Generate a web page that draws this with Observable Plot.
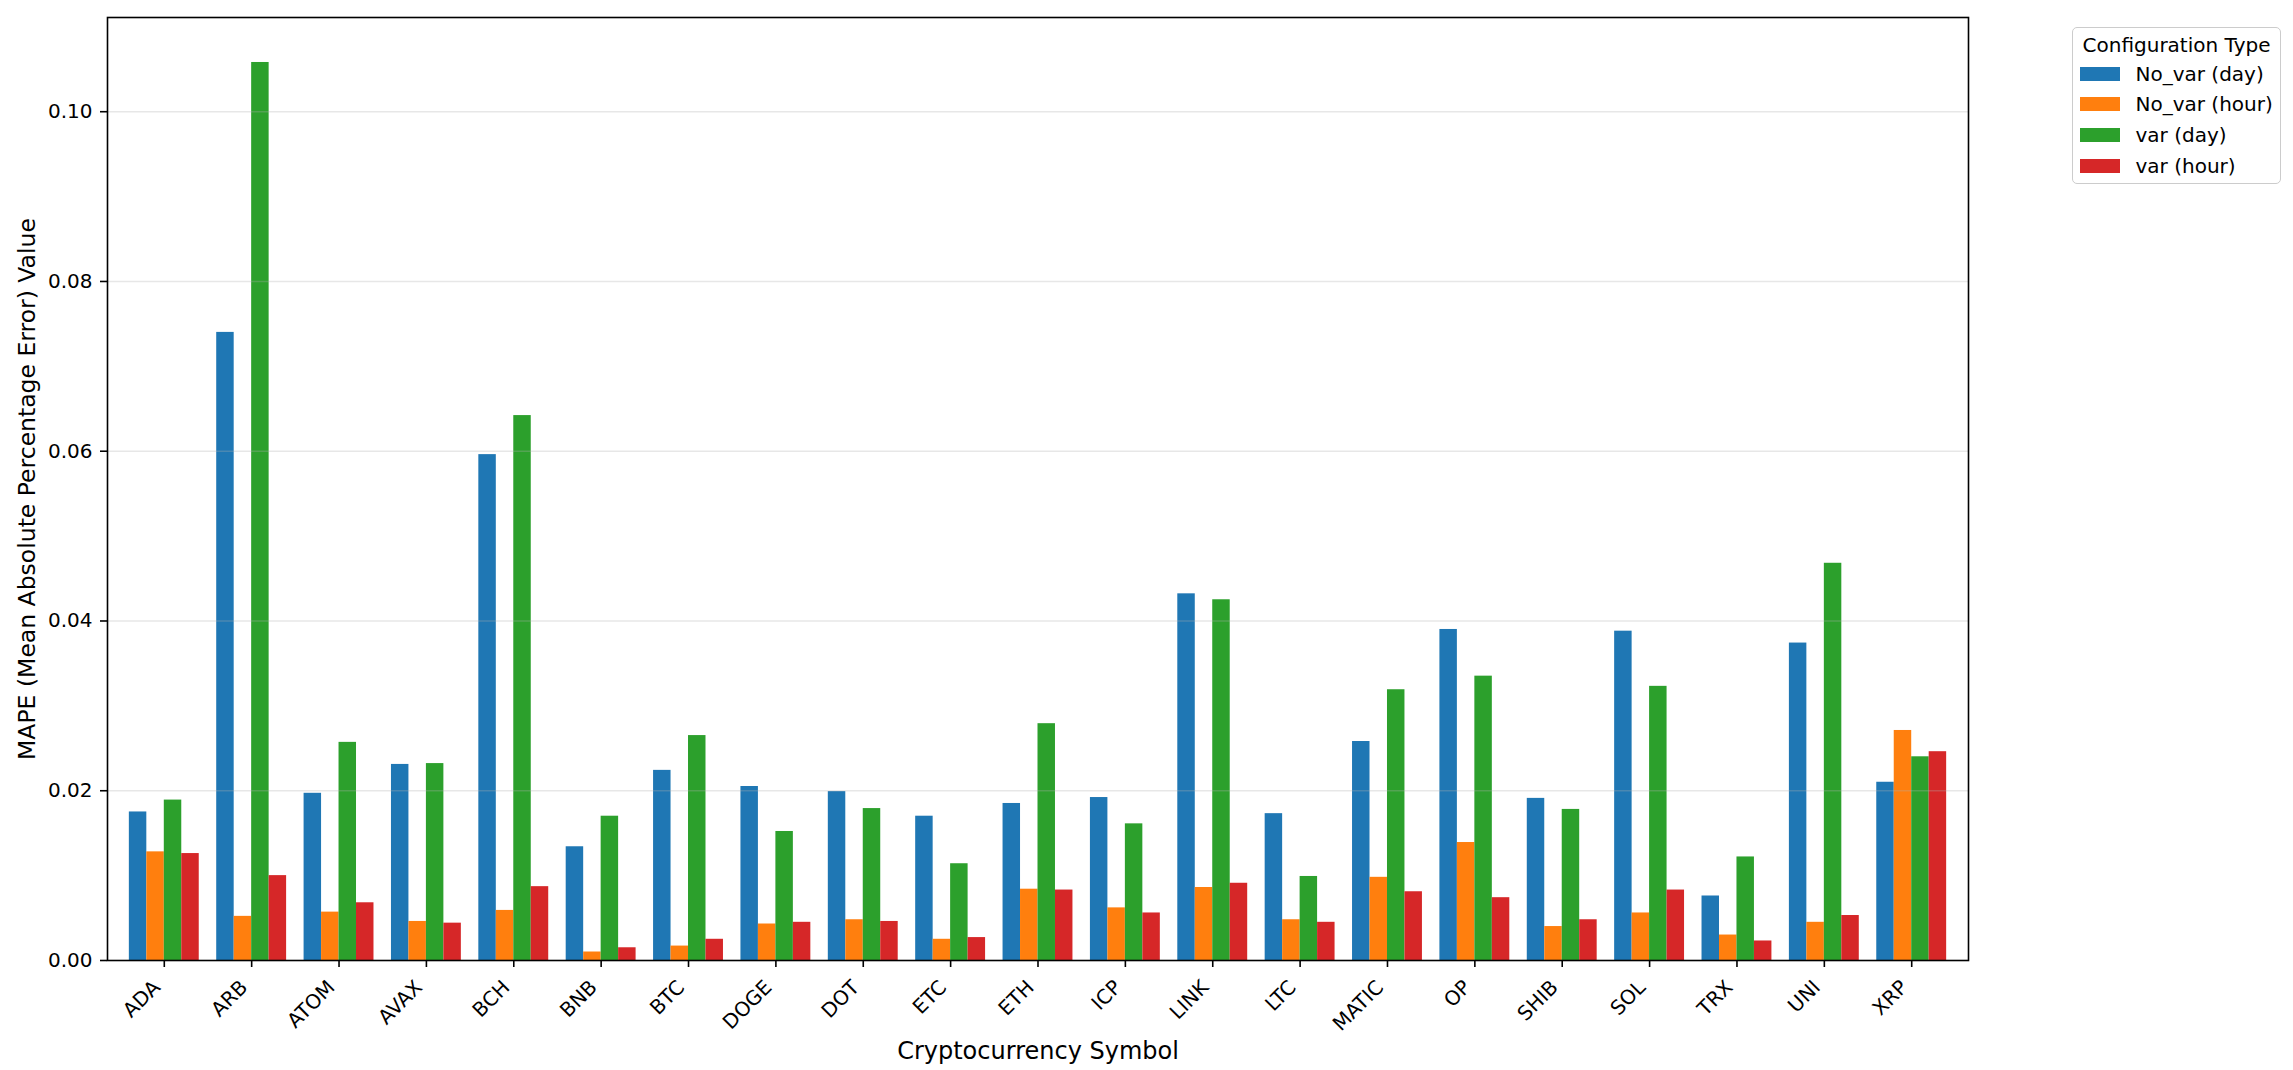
<!DOCTYPE html>
<html>
<head>
<meta charset="utf-8">
<script src="https://cdn.jsdelivr.net/npm/d3@7"></script>
<script src="https://cdn.jsdelivr.net/npm/@observablehq/plot@0.6"></script>
<style>
  html, body { margin: 0; padding: 0; background: white; overflow: hidden; }
  #wrap { position: relative; width: 2293px; height: 1070px; font-family: "DejaVu Sans", sans-serif; }
  #legend { position: absolute; left: 2072px; top: 27px; width: 207px; height: 155px;
            border: 1.5px solid #cccccc; border-radius: 5px; background: rgba(255,255,255,0.8); box-sizing: content-box; }
  .lg { position: absolute; font-size: 20px; line-height: 24px; white-space: nowrap; color: #000; }
  .sw { position: absolute; width: 40px; height: 14px; }
</style>
</head>
<body>
<div id="wrap"></div>
<script>
const symbols = ["ADA","ARB","ATOM","AVAX","BCH","BNB","BTC","DOGE","DOT","ETC","ETH","ICP","LINK","LTC","MATIC","OP","SHIB","SOL","TRX","UNI","XRP"];
const seriesNames = ["No_var (day)", "No_var (hour)", "var (day)", "var (hour)"];
const seriesColors = ["#1f77b4", "#ff7f0e", "#2ca02c", "#d62728"];
const noVarDay  = [0.0175,0.0740,0.0197,0.0231,0.0596,0.0134,0.0224,0.0205,0.0199,0.0170,0.0185,0.0192,0.0432,0.0173,0.0258,0.0390,0.0191,0.0388,0.0076,0.0374,0.0210];
const noVarHour = [0.0128,0.0052,0.0057,0.0046,0.0059,0.0010,0.0017,0.0043,0.0048,0.0025,0.0084,0.0062,0.0086,0.0048,0.0098,0.0139,0.0040,0.0056,0.0030,0.0045,0.0271];
const varDay    = [0.0189,0.1058,0.0257,0.0232,0.0642,0.0170,0.0265,0.0152,0.0179,0.0114,0.0279,0.0161,0.0425,0.0099,0.0319,0.0335,0.0178,0.0323,0.0122,0.0468,0.0240];
const varHour   = [0.0126,0.0100,0.0068,0.0044,0.0087,0.0015,0.0025,0.0045,0.0046,0.0027,0.0083,0.0056,0.0091,0.0045,0.0081,0.0074,0.0048,0.0083,0.0023,0.0053,0.0246];
const yTicks = [0.00, 0.02, 0.04, 0.06, 0.08, 0.10];
const xLabel = "Cryptocurrency Symbol";
const yLabel = "MAPE (Mean Absolute Percentage Error) Value";
const legendTitle = "Configuration Type";

const seriesValues = [noVarDay, noVarHour, varDay, varHour];
const rows = symbols.flatMap((s, i) => seriesNames.map((name, k) => ({symbol: s, i, k, series: name, value: seriesValues[k][i]})));
const idx = symbols.map((_, i) => i);
const barW = 0.2;

const chart = Plot.plot({
  width: 2293,
  height: 1070,
  marginLeft: 107,
  marginRight: 325,
  marginTop: 17,
  marginBottom: 110,
  style: {fontFamily: "DejaVu Sans", background: "white", color: "black"},
  x: {domain: [-0.65, symbols.length - 1 + 0.65], axis: null},
  y: {domain: [0, 0.1111], axis: null},
  color: {domain: seriesNames, range: seriesColors},
  marks: [
    Plot.rectY(rows, {
      x1: d => d.i - 2 * barW + d.k * barW,
      x2: d => d.i - 2 * barW + (d.k + 1) * barW,
      y1: 0, y2: "value", fill: "series"
    }),
    Plot.gridY(yTicks.slice(1), {stroke: "#b0b0b0", strokeOpacity: 0.3, strokeWidth: 1.4}),
    Plot.frame({stroke: "black", strokeWidth: 1.6}),
    Plot.axisY({ticks: yTicks, tickFormat: d3.format(".2f"), tickSize: 7, tickPadding: 8, fontSize: 20, label: null, strokeWidth: 1.6}),
    Plot.axisX({ticks: idx, tickSize: 7, tickFormat: () => "", label: null, strokeWidth: 1.6}),
    Plot.text(symbols, {x: (d, i) => i, frameAnchor: "bottom", textAnchor: "end", lineAnchor: "top", rotate: -45, dx: -13, dy: 18, fontSize: 20, fill: "black"}),
    Plot.text([yLabel], {frameAnchor: "left", textAnchor: "middle", lineAnchor: "middle", dx: -80, rotate: -90, fontSize: 23.5, fill: "black"}),
    Plot.text([xLabel], {frameAnchor: "bottom", textAnchor: "middle", lineAnchor: "middle", dy: 91, fontSize: 24, fill: "black"})
  ]
});

const wrap = document.getElementById("wrap");
wrap.appendChild(chart);

// Legend (HTML overlay)
const lg = document.createElement("div");
lg.id = "legend";
wrap.appendChild(lg);
const title = document.createElement("div");
title.className = "lg";
title.textContent = legendTitle;
title.style.left = "0px";
title.style.width = "207px";
title.style.textAlign = "center";
title.style.top = (44 - 27 - 12) + "px";
lg.appendChild(title);
const rowCenters = [74, 104.7, 135.3, 166];
seriesNames.forEach((name, k) => {
  const sw = document.createElement("div");
  sw.className = "sw";
  sw.style.background = seriesColors[k];
  sw.style.left = (2080 - 2073.5) + "px";
  sw.style.top = (rowCenters[k] - 27 - 7 - 1.5) + "px";
  lg.appendChild(sw);
  const t = document.createElement("div");
  t.className = "lg";
  t.textContent = name;
  t.style.left = (2136 - 2073.5) + "px";
  t.style.top = (rowCenters[k] - 27 - 12 - 1.5) + "px";
  lg.appendChild(t);
});
</script>
</body>
</html>
